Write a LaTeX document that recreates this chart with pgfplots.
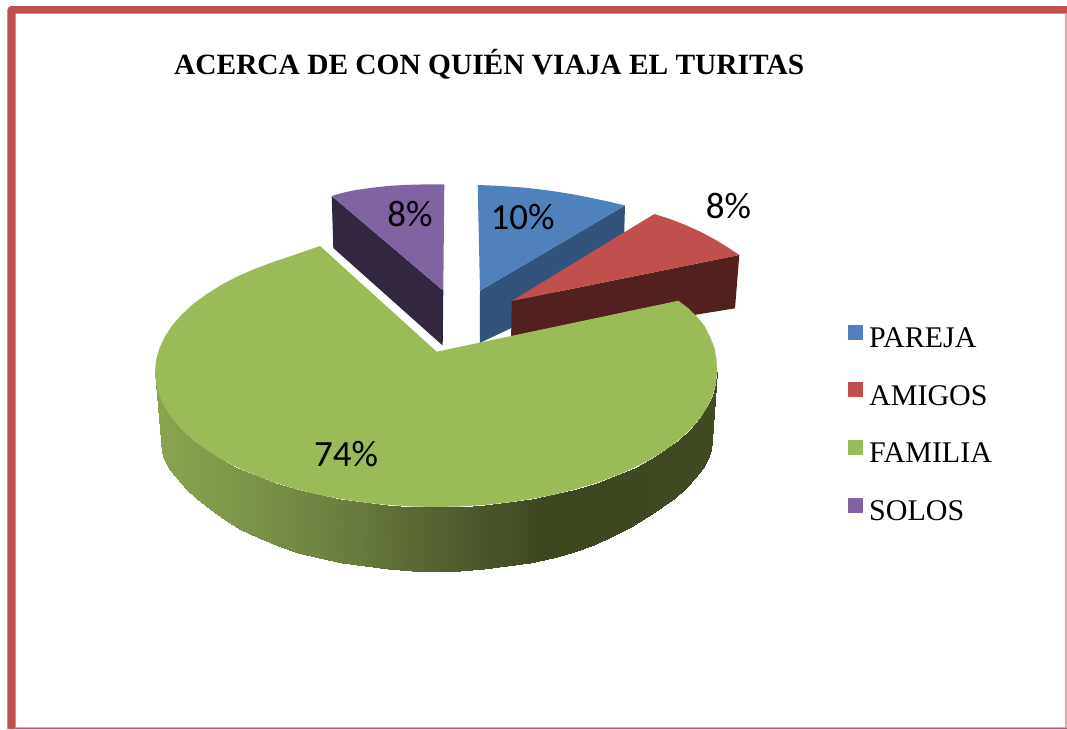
\documentclass[border=0pt]{standalone}
\usepackage{fontspec}
\setmainfont{Liberation Serif}
\newfontfamily\calibri{Carlito}
\usepackage{pgfplots}
\pgfplotsset{compat=1.18}
\definecolor{pblue}{HTML}{4F81BD}
\definecolor{pred}{HTML}{C0504D}
\definecolor{pgreen}{HTML}{9BBB59}
\definecolor{ppurple}{HTML}{8064A2}
\definecolor{dblue}{HTML}{31547C}
\definecolor{dred}{HTML}{52201E}
\definecolor{dpurple}{HTML}{33263F}
\pgfplotsset{shape/.style={draw=none,forget plot}}
\begin{document}
\begin{tikzpicture}
\begin{axis}[
  scale only axis,width=1067pt,height=729pt,
  xmin=0,xmax=1067,ymin=0,ymax=729,y dir=reverse,
  axis lines=none,clip=true,
  point meta min=155,point meta max=717,
  colormap={side}{rgb255(155)=(138,164,79) rgb255(240)=(125,150,72) rgb255(340)=(108,127,63) rgb255(436)=(85,98,48) rgb255(545)=(60,71,32) rgb255(717)=(64,75,34)},
  legend style={at={(axis cs:848,324.5)},anchor=north west,draw=none,fill=none,
    font=\fontsize{30}{34}\selectfont,row sep=31.5pt,inner sep=0pt,
    /tikz/every even column/.append style={column sep=0pt}},
  legend cell align=left,
  legend image code/.code={\fill[#1] (0pt,-1.5pt) rectangle (15pt,13.5pt);\path[fill=none,draw=none] (0pt,0pt) rectangle (19pt,1pt);},
]
\addlegendimage{fill=pblue,draw=none}\addlegendentry{PAREJA}
\addlegendimage{fill=pred,draw=none}\addlegendentry{AMIGOS}
\addlegendimage{fill=pgreen,draw=none}\addlegendentry{FAMILIA}
\addlegendimage{fill=ppurple,draw=none}\addlegendentry{SOLOS}

% page background
\addplot[shape,fill=white] coordinates {(0,0)(1067,0)(1067,729)(0,729)} -- cycle;
% frame
\addplot[shape,fill=pred] coordinates {(7.3,10)(8.5,7.3)(11,6)(1067,6)(1067,13.7)(15.7,13.7)(15.7,729)(7.3,729)} -- cycle;
\addplot[shape,fill=pred!50] coordinates {(1065.3,13.7)(1066.7,13.7)(1066.7,729)(1065.3,729)} -- cycle;
\addplot[shape,fill=pred!50] coordinates {(15.7,726.6)(1067,726.6)(1067,727.6)(15.7,727.6)} -- cycle;
\addplot[shape,fill=pred] coordinates {(15.7,727.6)(1067,727.6)(1067,729)(15.7,729)} -- cycle;

% SOLOS
\addplot[shape,fill=dpurple] coordinates {(331.7,196)(443.3,290.7)(442.7,345.5)(333.3,248)} -- cycle;
\addplot[shape,fill=ppurple] coordinates {(331.7,196)(342,193)(353,190.5)(370,188)(387,186)(403,185)(420,184.5)(444.3,184.3)(443.3,290.7)} -- cycle;
% PAREJA
\addplot[shape,fill=dblue] coordinates {(625,205.5)(480,290.7)(479.8,343)(510.7,328.3)(624,240)} -- cycle;
\addplot[shape,fill=pblue] coordinates {(477.7,185)(498,185.8)(520,187.3)(537,189)(553.3,191.2)(570,193.8)(586.7,197)(606,201)(625,205.5)(480,290.7)} -- cycle;
% AMIGOS
\addplot[shape,fill=dred] coordinates {(739.3,255)(735,308.3)(511,345)(511.7,301)} -- cycle;
\addplot[shape,fill=pred] coordinates {(654.3,214)(670,219)(686.7,225.5)(702,232.5)(716.7,240.5)(728,247.5)(739.3,255)(511.7,301)} -- cycle;

% FAMILIA side
\addplot[surf,shader=interp,point meta=x,forget plot,mesh/rows=2,mesh/ordering=x varies] table {
x y
155 372
156.1 383.8
159.3 395.4
164.6 406.9
171.9 418.2
181.3 429.1
192.6 439.5
205.8 449.4
220.7 458.8
237.3 467.5
255.4 475.4
274.8 482.6
295.5 488.9
317.2 494.4
339.9 498.9
363.3 502.4
387.2 504.9
411.5 506.5
436 507
460.5 506.5
484.8 504.9
508.7 502.4
532.1 498.9
554.8 494.4
576.5 488.9
597.2 482.6
616.6 475.4
634.7 467.5
651.3 458.8
666.2 449.4
679.4 439.5
690.7 429.1
700.1 418.2
707.4 406.9
712.7 395.4
715.9 383.8
717 372
161.5 445
162 452
164.2 459.4
169.4 469
176.6 478
185.9 488.5
197 498.5
209.9 509
224.6 519.8
240.8 529.5
258.6 538.4
277.7 546
298 552.9
319.4 558.4
341.6 562.9
364.6 566.4
388.1 568.9
411.9 570.5
436 571
460.1 570.5
483.9 568.9
507.4 566.4
530.4 562.9
552.6 558.2
574 552
594.3 545
613.4 536.4
631.2 527
647.4 517
662.1 507.4
675 497.5
686.1 488
695.4 478
702.6 468
707.8 458.5
711 449.5
712 440
};
% FAMILIA top
\addplot[shape,fill=pgreen] coordinates {(436.7,351.7)(320,246)(295.5,254.5)(274.8,261.4)(255.4,268.6)(237.3,276.5)(220.7,285.2)(205.8,294.6)(192.6,304.5)(181.3,314.9)(171.9,325.8)(164.6,337.1)(159.3,348.6)(156.1,360.2)(155,372)
(156.1,383.8)(159.3,395.4)(164.6,406.9)(171.9,418.2)(181.3,429.1)(192.6,439.5)(205.8,449.4)(220.7,458.8)(237.3,467.5)(255.4,475.4)(274.8,482.6)(295.5,488.9)(317.2,494.4)(339.9,498.9)(363.3,502.4)(387.2,504.9)(411.5,506.5)(436,507)
(460.5,506.5)(484.8,504.9)(508.7,502.4)(532.1,498.9)(554.8,494.4)(576.5,488.9)(597.2,482.6)(616.6,475.4)(634.7,467.5)(651.3,458.8)(666.2,449.4)(679.4,439.5)(690.7,429.1)(700.1,418.2)(707.4,406.9)(712.7,395.4)(715.9,383.8)(717,372)
(716.5,360)(714.5,348)(710,336.7)(704.5,326)(697,316.7)(688,308)(678.3,300.7)} -- cycle;

\node[anchor=base west,inner sep=0pt,font=\fontsize{29.4}{36}\selectfont\bfseries] at (axis cs:174,74) {ACERCA DE CON QUIÉN VIAJA EL TURITAS};
\node[inner sep=0pt,font=\fontsize{37}{42}\selectfont\calibri] at (axis cs:346,454) {74\%};
\node[inner sep=0pt,font=\fontsize{37}{42}\selectfont\calibri] at (axis cs:522.5,217) {10\%};
\node[inner sep=0pt,font=\fontsize{37}{42}\selectfont\calibri] at (axis cs:410,214) {8\%};
\node[inner sep=0pt,font=\fontsize{37}{42}\selectfont\calibri] at (axis cs:728.5,206) {8\%};
\end{axis}
\end{tikzpicture}
\end{document}
